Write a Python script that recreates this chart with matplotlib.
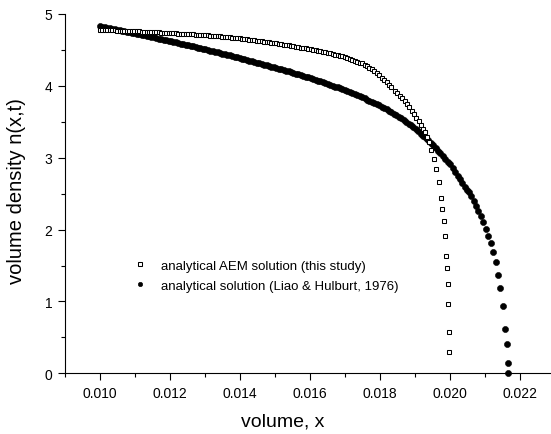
import matplotlib
matplotlib.use("Agg")
import matplotlib.pyplot as plt
from matplotlib.ticker import MultipleLocator, FormatStrFormatter

plt.rcParams['font.family'] = ['Liberation Sans', 'DejaVu Sans']

# ---- data ----
aem_x = [
    0.01000, 0.01007, 0.01014, 0.01021, 0.01028, 0.01035, 0.01042, 0.01049, 0.01056, 0.01063,
    0.01070, 0.01077, 0.01084, 0.01091, 0.01098, 0.01105, 0.01112, 0.01119, 0.01126, 0.01133,
    0.01140, 0.01147, 0.01154, 0.01161, 0.01168, 0.01175, 0.01182, 0.01189, 0.01196, 0.01203,
    0.01210, 0.01217, 0.01224, 0.01231, 0.01238, 0.01245, 0.01252, 0.01259, 0.01266, 0.01273,
    0.01280, 0.01287, 0.01294, 0.01301, 0.01308, 0.01315, 0.01322, 0.01329, 0.01336, 0.01343,
    0.01350, 0.01357, 0.01364, 0.01371, 0.01378, 0.01385, 0.01392, 0.01399, 0.01406, 0.01413,
    0.01420, 0.01427, 0.01434, 0.01441, 0.01448, 0.01455, 0.01462, 0.01469, 0.01476, 0.01483,
    0.01490, 0.01497, 0.01504, 0.01511, 0.01518, 0.01525, 0.01532, 0.01539, 0.01546, 0.01553,
    0.01560, 0.01567, 0.01574, 0.01581, 0.01588, 0.01595, 0.01602, 0.01609, 0.01616, 0.01623,
    0.01630, 0.01637, 0.01644, 0.01651, 0.01658, 0.01665, 0.01672, 0.01679, 0.01686, 0.01693,
    0.01700, 0.01707, 0.01714, 0.01721, 0.01728, 0.01735, 0.01742, 0.01749, 0.01756, 0.01763,
    0.01770, 0.01777, 0.01784, 0.01791, 0.01798, 0.01805, 0.01812, 0.01819, 0.01826, 0.01833,
    0.018429, 0.018495, 0.018571, 0.018638, 0.018705, 0.018771, 0.018838, 0.018905, 0.018962,
    0.019038, 0.019105, 0.019162, 0.019238, 0.019295, 0.019352, 0.019410, 0.019457, 0.019534,
    0.019609, 0.019677, 0.019743, 0.019785, 0.019829, 0.019857, 0.019894, 0.019914, 0.019934,
    0.019951, 0.019971, 0.019980,
]
aem_n = [
    4.780, 4.779, 4.777, 4.776, 4.774, 4.773, 4.772, 4.770, 4.769, 4.767,
    4.766, 4.765, 4.763, 4.762, 4.760, 4.759, 4.757, 4.755, 4.754, 4.752,
    4.750, 4.749, 4.747, 4.745, 4.744, 4.742, 4.740, 4.739, 4.737, 4.735,
    4.733, 4.731, 4.728, 4.726, 4.724, 4.722, 4.719, 4.717, 4.715, 4.713,
    4.710, 4.708, 4.706, 4.704, 4.701, 4.698, 4.695, 4.692, 4.690, 4.687,
    4.684, 4.681, 4.677, 4.674, 4.671, 4.667, 4.664, 4.660, 4.656, 4.652,
    4.648, 4.644, 4.640, 4.635, 4.631, 4.626, 4.621, 4.616, 4.611, 4.606,
    4.600, 4.595, 4.590, 4.584, 4.579, 4.573, 4.567, 4.562, 4.556, 4.550,
    4.544, 4.538, 4.532, 4.527, 4.520, 4.514, 4.508, 4.502, 4.496, 4.489,
    4.483, 4.477, 4.470, 4.464, 4.455, 4.446, 4.436, 4.427, 4.418, 4.409,
    4.400, 4.387, 4.375, 4.362, 4.350, 4.337, 4.324, 4.312, 4.293, 4.273,
    4.253, 4.233, 4.208, 4.178, 4.149, 4.116, 4.083, 4.050, 4.016, 3.982,
    3.933, 3.901, 3.863, 3.827, 3.785, 3.743, 3.702, 3.655, 3.608,
    3.557, 3.515, 3.460, 3.400, 3.353, 3.293, 3.223, 3.105, 2.978,
    2.839, 2.658, 2.440, 2.290, 2.115, 1.906, 1.637, 1.461, 1.247,
    0.969, 0.575, 0.301,
]

lh_x = [
    0.01000, 0.01007, 0.01014, 0.01021, 0.01028, 0.01035, 0.01042, 0.01049, 0.01056, 0.01063,
    0.01070, 0.01077, 0.01084, 0.01091, 0.01098, 0.01105, 0.01112, 0.01119, 0.01126, 0.01133,
    0.01140, 0.01147, 0.01154, 0.01161, 0.01168, 0.01175, 0.01182, 0.01189, 0.01196, 0.01203,
    0.01210, 0.01217, 0.01224, 0.01231, 0.01238, 0.01245, 0.01252, 0.01259, 0.01266, 0.01273,
    0.01280, 0.01287, 0.01294, 0.01301, 0.01308, 0.01315, 0.01322, 0.01329, 0.01336, 0.01343,
    0.01350, 0.01357, 0.01364, 0.01371, 0.01378, 0.01385, 0.01392, 0.01399, 0.01406, 0.01413,
    0.01420, 0.01427, 0.01434, 0.01441, 0.01448, 0.01455, 0.01462, 0.01469, 0.01476, 0.01483,
    0.01490, 0.01497, 0.01504, 0.01511, 0.01518, 0.01525, 0.01532, 0.01539, 0.01546, 0.01553,
    0.01560, 0.01567, 0.01574, 0.01581, 0.01588, 0.01595, 0.01602, 0.01609, 0.01616, 0.01623,
    0.01630, 0.01637, 0.01644, 0.01651, 0.01658, 0.01665, 0.01672, 0.01679, 0.01686, 0.01693,
    0.01700, 0.01707, 0.01714, 0.01721, 0.01728, 0.01735, 0.01742, 0.01749, 0.01756, 0.01763,
    0.01770, 0.01777, 0.01784, 0.01791, 0.01798, 0.01805, 0.01812, 0.01819, 0.01826, 0.01833,
    0.01840, 0.01847, 0.01854, 0.01861, 0.01868, 0.01875, 0.01882, 0.01889, 0.01896, 0.01903,
    0.01910, 0.01917, 0.01924, 0.01931, 0.01938, 0.01945, 0.01952, 0.01959, 0.01966, 0.01973,
    0.01980, 0.01987, 0.01994, 0.02001, 0.02008, 0.02015, 0.02022, 0.02029, 0.02036, 0.02043,
    0.02050, 0.020543, 0.020610, 0.020676, 0.020743, 0.020810, 0.020876, 0.020952, 0.021019,
    0.021086, 0.021162, 0.021229, 0.021305, 0.021371, 0.021438, 0.021514, 0.021581, 0.021619,
    0.021648, 0.021660,
]
lh_n = [
    4.830, 4.823, 4.817, 4.810, 4.803, 4.796, 4.790, 4.783, 4.776, 4.769,
    4.762, 4.754, 4.747, 4.740, 4.733, 4.726, 4.719, 4.711, 4.704, 4.697,
    4.689, 4.682, 4.675, 4.667, 4.659, 4.652, 4.644, 4.636, 4.628, 4.621,
    4.613, 4.605, 4.597, 4.589, 4.581, 4.574, 4.566, 4.558, 4.549, 4.541,
    4.533, 4.525, 4.517, 4.509, 4.500, 4.492, 4.483, 4.475, 4.466, 4.458,
    4.449, 4.440, 4.432, 4.423, 4.414, 4.406, 4.397, 4.388, 4.379, 4.370,
    4.361, 4.352, 4.343, 4.334, 4.325, 4.315, 4.306, 4.297, 4.288, 4.278,
    4.269, 4.260, 4.250, 4.241, 4.231, 4.221, 4.211, 4.201, 4.192, 4.182,
    4.171, 4.161, 4.150, 4.140, 4.129, 4.119, 4.108, 4.096, 4.085, 4.074,
    4.062, 4.051, 4.040, 4.028, 4.016, 4.003, 3.990, 3.978, 3.965, 3.953,
    3.940, 3.926, 3.912, 3.898, 3.884, 3.870, 3.856, 3.842, 3.826, 3.810,
    3.794, 3.778, 3.762, 3.746, 3.730, 3.711, 3.691, 3.672, 3.652, 3.633,
    3.613, 3.593, 3.571, 3.548, 3.524, 3.500, 3.476, 3.452, 3.429, 3.401,
    3.369, 3.337, 3.305, 3.272, 3.240, 3.208, 3.174, 3.136, 3.099, 3.061,
    3.023, 2.985, 2.947, 2.908, 2.856, 2.804, 2.752, 2.700, 2.649, 2.597,
    2.545, 2.519, 2.463, 2.398, 2.332, 2.263, 2.185, 2.101, 2.012,
    1.915, 1.813, 1.688, 1.549, 1.372, 1.191, 0.937, 0.617, 0.408,
    0.143, 0.010,
]

aem_label = "analytical AEM solution (this study)"
lh_label = "analytical solution (Liao & Hulburt, 1976)"
x_label = "volume, x"
y_label = "volume density n(x,t)"

# ---- figure ----
fig = plt.figure(figsize=(5.51, 4.35), dpi=100)
ax = fig.add_axes([65 / 551, (435 - 374.3) / 435, (551 - 65) / 551, (374.3 - 15) / 435])

ax.plot(lh_x, lh_n, linestyle='none', marker='o', markersize=4.4,
        markerfacecolor='black', markeredgecolor='black', markeredgewidth=0.4,
        label=lh_label, zorder=2, clip_on=False)
ax.plot(aem_x, aem_n, linestyle='none', marker='s', markersize=3.2,
        markerfacecolor='white', markeredgecolor='black', markeredgewidth=0.75,
        label=aem_label, zorder=3, clip_on=False)

ax.set_xlim(0.009, 0.02289)
ax.set_ylim(0, 5)

for s in ('top', 'right'):
    ax.spines[s].set_visible(False)
for s in ('left', 'bottom'):
    ax.spines[s].set_linewidth(0.8)

ax.xaxis.set_major_locator(MultipleLocator(0.002))
ax.xaxis.set_minor_locator(MultipleLocator(0.001))
ax.xaxis.set_major_formatter(FormatStrFormatter('%.3f'))
ax.yaxis.set_major_locator(MultipleLocator(1))
ax.yaxis.set_minor_locator(MultipleLocator(0.5))
ax.tick_params(which='major', direction='out', length=5, width=0.8, labelsize=10, pad=4)
ax.tick_params(which='minor', direction='out', length=2.7, width=0.8)

ax.set_xlabel(x_label, fontsize=14)
ax.set_ylabel(y_label, fontsize=14.5)
ax.xaxis.set_label_coords(0.447, -0.108)
ax.yaxis.set_label_coords(-0.08, 0.51)

handles, labels = ax.get_legend_handles_labels()
leg = ax.legend(handles[::-1], labels[::-1], loc='upper left',
                bbox_to_anchor=(0.1407, 0.317), frameon=False, fontsize=9.5,
                numpoints=1, handlelength=1.0, handletextpad=1.1,
                borderpad=0, borderaxespad=0, labelspacing=0.62)
for h in leg.legend_handles:
    h.set_markersize(3.2)

fig.savefig('out.png', dpi=100, facecolor='white')
